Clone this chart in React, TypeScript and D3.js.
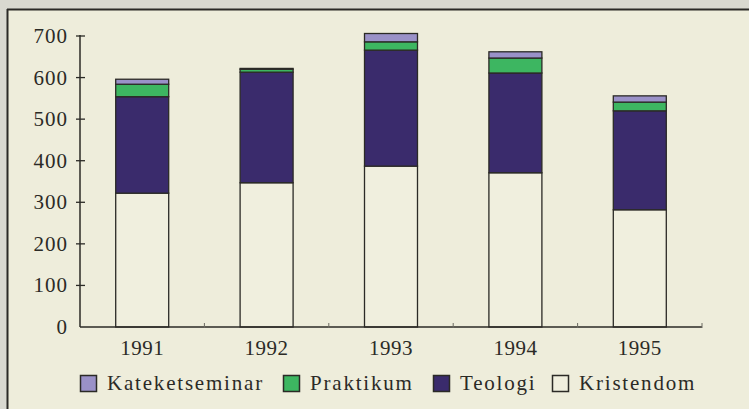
import React from 'react';
import * as d3 from 'd3';

const years = ['1991', '1992', '1993', '1994', '1995'];
const kristendom = [322, 347, 387, 371, 282];
const teologi = [232, 266, 279, 240, 238];
const praktikum = [30, 7, 20, 36, 21];
const kateketseminar = [12, 2, 20, 15, 15];
const yTicks = [0, 100, 200, 300, 400, 500, 600, 700];

const seriesKeys = ['Kristendom', 'Teologi', 'Praktikum', 'Kateketseminar'];
const colors: Record<string, string> = {
  Kristendom: '#f0efde',
  Teologi: '#3a2b6c',
  Praktikum: '#3db661',
  Kateketseminar: '#9a91c8',
};
const legendOrder = ['Kateketseminar', 'Praktikum', 'Teologi', 'Kristendom'];

const W = 749;
const H = 409;
const margin = { left: 80, right: 47, top: 36, bottom: 82 };
const font = '"Liberation Serif", "DejaVu Serif", serif';
const ink = '#2b2a26';

export default function App() {
  const rows = years.map((y, i) => ({
    year: y,
    Kristendom: kristendom[i],
    Teologi: teologi[i],
    Praktikum: praktikum[i],
    Kateketseminar: kateketseminar[i],
  }));
  const stacked = d3.stack<any>().keys(seriesKeys)(rows);

  const x = d3
    .scaleBand()
    .domain(years)
    .range([margin.left, W - margin.right])
    .paddingInner(0.574)
    .paddingOuter(0.287);
  const y = d3
    .scaleLinear()
    .domain([0, 700])
    .range([H - margin.bottom, margin.top]);

  const step = x.step();
  const y0 = y(0);

  // legend squares, left to right
  const legendX = [80, 283, 433, 552];

  return (
    <div style={{ position: 'absolute', left: 0, top: 0 }}>
      <svg width={W} height={H} style={{ display: 'block' }}>
        <rect x={0} y={0} width={W} height={H} fill="#d9d9d0" />
        <rect x={7} y={9} width={W - 7} height={H - 9} fill="#eeeddb" />
        <line x1={7} x2={W} y1={9.5} y2={9.5} stroke={ink} strokeWidth={2} />
        <line x1={7.5} x2={7.5} y1={9} y2={H} stroke={ink} strokeWidth={2} />

        {/* bars */}
        {stacked.map((layer) =>
          layer.map((d, i) => (
            <rect
              key={layer.key + i}
              x={x(years[i])}
              y={y(d[1])}
              width={x.bandwidth()}
              height={y(d[0]) - y(d[1])}
              fill={colors[layer.key]}
              stroke={ink}
              strokeWidth={1.3}
            />
          ))
        )}

        {/* y axis */}
        <line x1={margin.left} x2={margin.left} y1={y(700) - 1} y2={y0} stroke={ink} strokeWidth={1.5} />
        {yTicks.map((t) => (
          <g key={t}>
            {t > 0 && (
              <line x1={margin.left - 4} x2={margin.left + 5} y1={y(t)} y2={y(t)} stroke={ink} strokeWidth={1.3} />
            )}
            <text
              x={68}
              y={y(t) + 7}
              textAnchor="end"
              fontFamily={font}
              fontSize={21}
              letterSpacing={1}
              fill={ink}
            >
              {t}
            </text>
          </g>
        ))}

        {/* x axis */}
        <line x1={margin.left} x2={W - margin.right} y1={y0} y2={y0} stroke={ink} strokeWidth={1.5} />
        {years.map((yr, i) => (
          <g key={yr}>
            <line
              x1={margin.left + step * (i + 1)}
              x2={margin.left + step * (i + 1)}
              y1={y0 - 4}
              y2={y0 + 1}
              stroke="#6b6a62"
              strokeWidth={1}
            />
            <text
              x={(x(yr) as number) + x.bandwidth() / 2}
              y={355}
              textAnchor="middle"
              fontFamily={font}
              fontSize={21}
              letterSpacing={0.5}
              fill={ink}
            >
              {yr}
            </text>
          </g>
        ))}

        {/* legend */}
        {legendOrder.map((k, i) => (
          <g key={k} transform={`translate(${legendX[i]},375)`}>
            <rect x={0.5} y={0.5} width={16} height={16} fill={colors[k]} stroke={ink} strokeWidth={1.5} />
            <text x={27} y={15} fontFamily={font} fontSize={21} letterSpacing={1.8} fill={ink}>
              {k}
            </text>
          </g>
        ))}
      </svg>
    </div>
  );
}
